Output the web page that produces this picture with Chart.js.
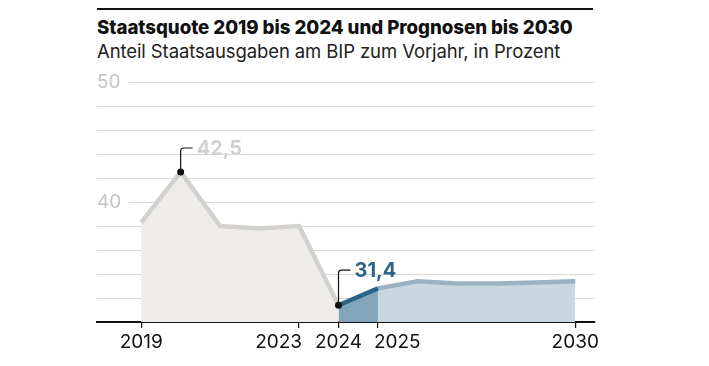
<!DOCTYPE html>
<html>
<head>
<meta charset="utf-8">
<style>
  html, body { margin: 0; padding: 0; background: #fff; }
  #wrap { position: relative; width: 709px; height: 366px; overflow: hidden; }
  #rule { position: absolute; left: 97px; top: 8px; width: 496px; height: 2px; background: #111; }
  #title { position: absolute; left: 97px; top: 16px; font: 800 18.7px "Inter", sans-serif; color: #111; letter-spacing: -0.05px; white-space: nowrap; }
  #subtitle { position: absolute; left: 97px; top: 40px; font: 18.5px "Inter", sans-serif; color: #222; letter-spacing: -0.1px; white-space: nowrap; }
  canvas { position: absolute; left: 0; top: 0; }
</style>
</head>
<body>
<div id="wrap">
  <div id="rule"></div>
  <div id="title">Staatsquote 2019 bis 2024 und Prognosen bis 2030</div>
  <div id="subtitle">Anteil Staatsausgaben am BIP zum Vorjahr, in Prozent</div>
  <canvas id="chart" width="709" height="366"></canvas>
</div>

<script src="https://cdn.jsdelivr.net/npm/chart.js"></script>
<script>
  // data
  const years = [2019, 2020, 2021, 2022, 2023, 2024, 2025, 2026, 2027, 2028, 2029, 2030];
  const quote = [38.3, 42.5, 38.0, 37.8, 38.0, 31.4, 32.8, 33.4, 33.2, 33.2, 33.3, 33.4];
  const xTicks = [2019, 2023, 2024, 2025, 2030];
  const xAlign = ['center', 'right', 'center', 'left', 'center'];
  const yLabels = [50, 40];
  const highlights = [
    { year: 2020, text: '42,5', color: '#d3d1ce', lift: 24 },
    { year: 2024, text: '31,4', color: '#2b6487', lift: 35 }
  ];

  const pts = years.map((y, i) => ({ x: y, y: quote[i] }));
  const hist = pts.filter(p => p.x <= 2024);
  const bridge = pts.filter(p => p.x >= 2024 && p.x <= 2025);
  const prog = pts.filter(p => p.x >= 2025);

  const FONT = '"Inter", sans-serif';

  const overlay = {
    id: 'overlay',
    beforeDatasetsDraw(chart) {
      const { ctx, scales: { y } } = chart;
      ctx.save();
      ctx.font = '19px ' + FONT;
      ctx.textBaseline = 'middle';
      ctx.textAlign = 'left';
      yLabels.forEach(v => {
        const py = y.getPixelForValue(v);
        const w = ctx.measureText(String(v)).width;
        ctx.fillStyle = '#fff';
        ctx.fillRect(chart.chartArea.left, py - 9, w + 8, 18);
        ctx.fillStyle = '#c4c4c4';
        ctx.fillText(String(v), chart.chartArea.left, py);
      });
      ctx.restore();
    },
    afterDatasetsDraw(chart) {
      const { ctx, scales: { x, y } } = chart;
      ctx.save();
      highlights.forEach(h => {
        const v = quote[years.indexOf(h.year)];
        const px = x.getPixelForValue(h.year);
        const py = y.getPixelForValue(v);
        const top = py - h.lift;
        ctx.strokeStyle = '#111';
        ctx.lineWidth = 1.2;
        ctx.beginPath();
        ctx.moveTo(px, py);
        ctx.lineTo(px, top + 3);
        ctx.quadraticCurveTo(px, top, px + 3, top);
        ctx.lineTo(px + 12, top);
        ctx.stroke();
        ctx.fillStyle = '#111';
        ctx.beginPath();
        ctx.arc(px, py, 3.5, 0, Math.PI * 2);
        ctx.fill();
        ctx.font = 'bold 20px ' + FONT;
        ctx.fillStyle = h.color;
        ctx.textBaseline = 'middle';
        ctx.textAlign = 'left';
        ctx.fillText(h.text, px + 16, top + 1);
      });
      // x tick labels with individual alignment
      ctx.font = '19px ' + FONT;
      ctx.fillStyle = '#111';
      ctx.textBaseline = 'middle';
      xTicks.forEach((t, i) => {
        const px = x.getPixelForValue(t);
        ctx.textAlign = xAlign[i];
        const dx = xAlign[i] === 'right' ? 3 : xAlign[i] === 'left' ? -4 : 0;
        ctx.fillText(String(t), px + dx, 342);
      });
      ctx.restore();
    }
  };

  new Chart(document.getElementById('chart'), {
    type: 'line',
    data: {
      datasets: [
        { data: hist, borderColor: '#d3d1ce', backgroundColor: '#efedeb', borderWidth: 4.5, fill: 'start', pointRadius: 0, tension: 0, order: 3 },
        { data: prog, borderColor: '#9db2c1', backgroundColor: '#c9d7e0', borderWidth: 4.5, fill: 'start', pointRadius: 0, tension: 0, order: 2 },
        { data: bridge, borderColor: '#2b6487', backgroundColor: '#82a5bc', borderWidth: 4.5, fill: 'start', pointRadius: 0, tension: 0, order: 1 }
      ]
    },
    options: {
      responsive: false,
      animation: false,
      layout: { padding: { left: 97, right: 114, top: 82, bottom: 0 } },
      plugins: { legend: { display: false }, tooltip: { enabled: false } },
      scales: {
        x: {
          type: 'linear',
          min: 2017.88,
          max: 2030.5,
          afterBuildTicks: s => { s.ticks = xTicks.map(v => ({ value: v })); },
          afterFit: s => { s.height = 44; },
          ticks: { display: false },
          grid: { drawOnChartArea: false, drawTicks: true, tickLength: 6, color: '#111', lineWidth: 1.2 },
          border: { color: '#111', width: 2 }
        },
        y: {
          min: 30,
          max: 50,
          afterFit: s => { s.width = 0; },
          ticks: { display: false, stepSize: 2 },
          grid: { color: '#d9d9d9', lineWidth: 1, drawTicks: false },
          border: { display: false }
        }
      }
    },
    plugins: [overlay]
  });
</script>
</body>
</html>
